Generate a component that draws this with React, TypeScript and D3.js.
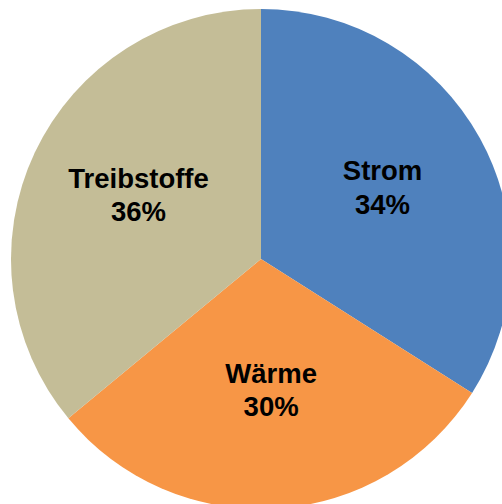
import React from "react";
import * as d3 from "d3";

const categories = ["Strom", "Wärme", "Treibstoffe"];
const values = [34, 30, 36];
const labels = ["34%", "30%", "36%"];
const colors = ["#4F81BD", "#F79646", "#C4BD97"];

const W = 502;
const H = 504;
const cx = 261;
const cy = 259;
const R = 250;

export default function App() {
  const pie = d3.pie<number>().sort(null).value((d) => d)(values);
  const arc = d3.arc<d3.PieArcDatum<number>>().innerRadius(0).outerRadius(R);
  const labelArc = d3.arc<d3.PieArcDatum<number>>().innerRadius(137).outerRadius(137);
  return (
    <svg
      width={W}
      height={H}
      style={{ position: "absolute", left: 0, top: 0, background: "#fff" }}
    >
      <g transform={`translate(${cx},${cy})`}>
        {pie.map((p, i) => (
          <path key={i} d={arc(p) || ""} fill={colors[i]} />
        ))}
        {pie.map((p, i) => {
          const [lx, ly] = labelArc.centroid(p);
          const x = lx + 1.5;
          const c = ly - 5.5;
          return (
            <text
              key={"t" + i}
              textAnchor="middle"
              fontFamily="'Liberation Sans', Arial, sans-serif"
              fontWeight="bold"
              fontSize={27.5}
              fill="#000"
            >
              <tspan x={x} y={c - 7.25}>{categories[i]}</tspan>
              <tspan x={x} y={c + 26.25}>{labels[i]}</tspan>
            </text>
          );
        })}
      </g>
    </svg>
  );
}
